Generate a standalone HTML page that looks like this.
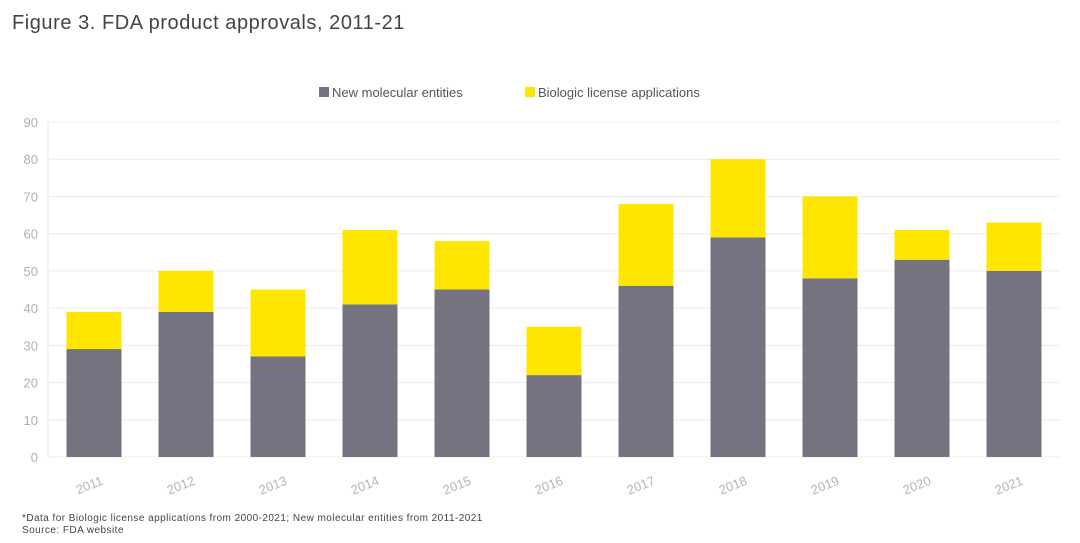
<!DOCTYPE html>
<html><head><meta charset="utf-8"><style>
body{margin:0;background:#fff;width:1080px;height:543px;overflow:hidden;font-family:"Liberation Sans",sans-serif;}
#title{position:absolute;left:12px;top:12px;font-size:20px;color:#444;letter-spacing:0.55px}
#foot{position:absolute;left:22px;top:513px;font-size:10px;color:#444;line-height:12px;letter-spacing:0.45px}
svg{position:absolute;left:0;top:0}
</style></head><body>
<div id="title">Figure 3. FDA product approvals, 2011-21</div>
<svg id="chart" width="1080" height="543"></svg>
<div id="foot">*Data for Biologic license applications from 2000-2021; New molecular entities from 2011-2021<br>Source: FDA website</div>
<script>
const categories=["2011","2012","2013","2014","2015","2016","2017","2018","2019","2020","2021"];
const nme=[29,39,27,41,45,22,46,59,48,53,50];
const bla=[10,11,18,20,13,13,22,21,22,8,13];
const yTicks=[0,10,20,30,40,50,60,70,80,90];
const svg=document.getElementById('chart');
const NS='http://www.w3.org/2000/svg';
const x0=48,x1=1060,y0=457,y1=122,ymax=90;
const band=(x1-x0)/categories.length,bw=55;
const y=v=>y0-(v/ymax)*(y0-y1);
const xc=i=>x0+band*(i+0.5);
function mk(t,a){const e=document.createElementNS(NS,t);for(const k in a)e.setAttribute(k,a[k]);svg.appendChild(e);return e;}
yTicks.forEach(t=>{
  const g=mk('line',{x1:x0,x2:x1,y1:y(t),y2:y(t),stroke:'#ececec','stroke-width':1});
  
  
  const l=mk('text',{x:38,y:y(t)+5,'text-anchor':'end','font-size':13,fill:'#b0b0b0'});
  l.textContent=t;
  
  
});
const ax=mk('line',{x1:x0,x2:x0,y1:y1,y2:y0,stroke:'#e6e6e6'});


categories.forEach((c,i)=>{
  const b1=mk('rect',{x:xc(i)-bw/2,y:y(nme[i]),width:bw,height:y(0)-y(nme[i]),fill:'#74737f'});
  
  
  const b2=mk('rect',{x:xc(i)-bw/2,y:y(nme[i]+bla[i]),width:bw,height:y(nme[i])-y(nme[i]+bla[i]),fill:'#ffe600'});
  
  
  const t=mk('text',{x:xc(i)+10,y:484,'text-anchor':'end','font-size':13,fill:'#b5b5b5',transform:`rotate(-22 ${xc(i)+10} 484)`});
  t.textContent=c;
  
  
});
const lg=[["New molecular entities","#74737f",319],["Biologic license applications","#ffe600",525]];
lg.forEach(([n,col,lx],i)=>{
  const r=mk('rect',{x:lx,y:87,width:10,height:10,fill:col});
  
  
  const t=mk('text',{x:lx+13,y:97,'font-size':13,fill:'#555'});
  t.textContent=n;
  
  
});
</script>
</body></html>
